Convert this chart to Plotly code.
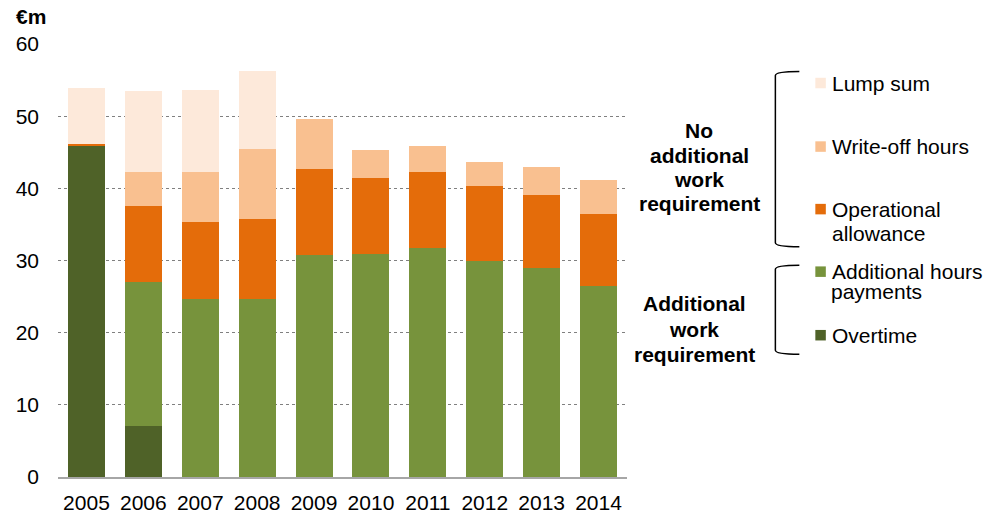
import plotly.graph_objects as go

years = ["2005", "2006", "2007", "2008", "2009", "2010", "2011", "2012", "2013", "2014"]
overtime = [45.9, 7.0, 0, 0, 0, 0, 0, 0, 0, 0]
additional_hours = [0, 20.0, 24.7, 24.6, 30.8, 30.9, 31.8, 30.0, 28.9, 26.4]
operational = [0.3, 10.5, 10.6, 11.1, 11.9, 10.5, 10.5, 10.3, 10.2, 10.1]
write_off = [0, 4.8, 7.0, 9.8, 6.9, 3.9, 3.5, 3.3, 3.8, 4.6]
lump_sum = [7.7, 11.2, 11.3, 10.8, 0, 0, 0, 0, 0, 0]

series = [
    ("Overtime", overtime, "#4F6228"),
    ("Additional hours payments", additional_hours, "#77933C"),
    ("Operational allowance", operational, "#E46C0A"),
    ("Write-off hours", write_off, "#F9C090"),
    ("Lump sum", lump_sum, "#FDE9DA"),
]

FONT = "Liberation Sans, Arial, sans-serif"
FS = 21
W, H = 1000, 516
L, R, T, B = 58, 372.5, 44, 39.3
PW = W - L - R
PH = H - T - B

def px(x):
    return (x - L) / PW

def py(y):
    return 1 - (y - T) / PH

fig = go.Figure()
for name, vals, col in series:
    fig.add_trace(go.Bar(
        x=years, y=vals, name=name, marker_color=col,
        marker_line_width=0, width=0.65, showlegend=False,
    ))

fig.update_layout(
    width=W, height=H, barmode="stack",
    margin=dict(l=L, r=R, t=T, b=B, autoexpand=False),
    plot_bgcolor="white", paper_bgcolor="white",
    font=dict(family=FONT, size=FS, color="#000000"),
    xaxis=dict(
        showgrid=False, showline=True, linecolor="#A6A6A6", linewidth=2,
        ticks="", tickfont=dict(size=FS), ticklabelstandoff=6,
        range=[-0.5, 9.5],
    ),
    yaxis=dict(
        range=[0, 60], dtick=10, showgrid=True, gridcolor="#808080",
        griddash="dot", gridwidth=1, zeroline=False, showline=False,
        ticks="", tickfont=dict(size=FS), ticklabelstandoff=18,
    ),
)

ann = []
ann.append(dict(text="<b>€m</b>", x=px(14), y=py(17), xanchor="left", yanchor="middle"))

# Legend entries
legend_items = [
    ("Lump sum", "#FDE9DA", 83, [("Lump sum", 83)]),
    ("Write-off hours", "#F9C090", 146.5, [("Write-off hours", 146.5)]),
    ("Operational allowance", "#E46C0A", 209, [("Operational", 209), ("allowance", 233)]),
    ("Additional hours payments", "#77933C", 271.5, [("Additional hours", 271), ("payments", 291)]),
    ("Overtime", "#4F6228", 335, [("Overtime", 335)]),
]
shapes = []
for name, col, yc, lines in legend_items:
    shapes.append(dict(type="rect", xref="paper", yref="paper",
                       x0=px(816), x1=px(826.5), y0=py(yc - 5.25), y1=py(yc + 5.25),
                       fillcolor=col, line_width=0))
    for i, (txt, yy) in enumerate(lines):
        xx = 829.5 if txt == "payments" else 831
        ann.append(dict(text=txt, x=px(xx), y=py(yy), xanchor="left", yanchor="middle"))

# Brackets
def bracket(y0, y1):
    path = (f"M {px(800)},{py(y0)} Q {px(776)},{py(y0)} {px(776)},{py(y0+4)} "
            f"L {px(776)},{py(y1-4)} Q {px(776)},{py(y1)} {px(800)},{py(y1)}")
    return dict(type="path", xref="paper", yref="paper", path=path,
                line=dict(color="#000000", width=1.5))

shapes.append(bracket(71.5, 246.5))
shapes.append(bracket(265, 354))

# Group labels
for txt, yy in [("No", 130), ("additional", 155), ("work", 179), ("requirement", 203)]:
    ann.append(dict(text=f"<b>{txt}</b>", x=px(700), y=py(yy), xanchor="center", yanchor="middle"))
for txt, yy in [("Additional", 303), ("work", 329), ("requirement", 354)]:
    ann.append(dict(text=f"<b>{txt}</b>", x=px(695), y=py(yy), xanchor="center", yanchor="middle"))

for a in ann:
    a.update(xref="paper", yref="paper", showarrow=False, font=dict(size=FS, family=FONT, color="#000000"))

fig.update_layout(annotations=ann, shapes=shapes)
fig.write_html("out.html", config={"displayModeBar": False},
               post_script="document.body.style.margin='0';")
